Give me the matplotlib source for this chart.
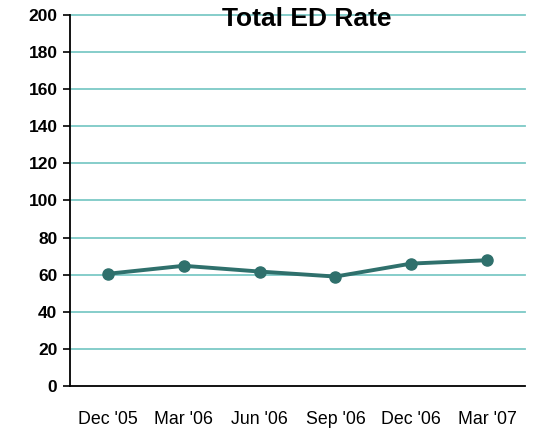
import matplotlib
matplotlib.use("Agg")
import matplotlib.pyplot as plt

plt.rcParams['font.family'] = ['Liberation Sans', 'DejaVu Sans']

quarters = ["Dec '05", "Mar '06", "Jun '06", "Sep '06", "Dec '06", "Mar '07"]
ed_rate = [60.5, 64.8, 61.7, 59.0, 66.0, 67.8]
y_ticks = list(range(0, 201, 20))

fig = plt.figure(figsize=(5.34, 4.29), dpi=100)
ax = fig.add_axes([70 / 534, 1 - 386 / 429, 455 / 534, 371 / 429])

for yv in y_ticks[1:]:
    ax.axhline(yv, color='#7cc9c6', lw=1.3, zorder=1, clip_on=False)

x = list(range(len(quarters)))
ax.plot(x, ed_rate, color='#2f706c', lw=2.8, marker='o', ms=8,
        markerfacecolor='#2f706c', markeredgecolor='#2f706c', zorder=3)

ax.set_xlim(-0.5, len(quarters) - 0.5)
ax.set_ylim(0, 200)
ax.set_yticks(y_ticks)
ax.set_yticklabels([str(v) for v in y_ticks], fontsize=12.5, fontweight='bold')
ax.set_xticks(x)
ax.set_xticklabels(quarters, fontsize=12.8)
ax.tick_params(axis='x', length=0, pad=18)
ax.tick_params(axis='y', length=5, width=1.2, pad=4, direction='out')

for side in ('top', 'right'):
    ax.spines[side].set_visible(False)
ax.spines['left'].set_linewidth(1.3)
ax.spines['bottom'].set_linewidth(1.3)

ax.text(0.52, 0.99, "Total ED Rate", transform=ax.transAxes, ha='center', va='center',
        fontsize=19, fontweight='bold', zorder=5)

fig.savefig("out.png", dpi=100)
